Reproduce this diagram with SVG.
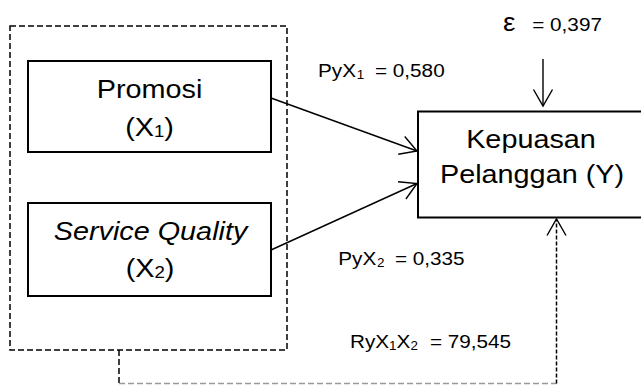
<svg xmlns="http://www.w3.org/2000/svg" width="641" height="385" viewBox="0 0 641 385">
  <style>
    .box { fill: #ffffff; stroke: #000000; stroke-width: 2; }
    .frame { fill: none; stroke: #000000; stroke-width: 1.5; stroke-dasharray: 6 3; }
    .big { font-family: "Liberation Sans", Arial, sans-serif; font-size: 25.5px; fill: #000000; text-anchor: middle; }
    .lbl { font-family: "Liberation Sans", Arial, sans-serif; font-size: 18.5px; fill: #000000; }
    .sub { font-size: 16.5px; }
    .lsub { font-size: 12px; }
    .path { fill: none; stroke: #000000; stroke-width: 1.4; }
  </style>
  <defs>
    <marker id="open" markerUnits="userSpaceOnUse" markerWidth="20" markerHeight="22" refX="17" refY="10" orient="auto" overflow="visible">
      <path d="M0.5,0.5 L17,10 L0.5,19.5" fill="none" stroke="#000000" stroke-width="1.4"/>
    </marker>
  </defs>

  <rect width="641" height="385" fill="#ffffff"/>

  <!-- independent variables frame -->
  <g id="frame-x">
    <rect class="frame" x="10" y="26" width="277" height="324"/>
  </g>

  <g id="node-promosi">
    <rect class="box" x="28" y="61" width="243" height="91"/>
    <text class="big" transform="translate(149.5,98) scale(1.13,1)">Promosi</text>
    <text class="big" transform="translate(149.5,136) scale(1.13,1)">(X<tspan class="sub" dy="1">1</tspan><tspan dy="-1">)</tspan></text>
  </g>

  <g id="node-service">
    <rect class="box" x="28" y="203" width="243" height="93"/>
    <text class="big" font-style="italic" transform="translate(150.5,240) scale(1.13,1)">Service Quality</text>
    <text class="big" transform="translate(150,277) scale(1.13,1)">(X<tspan class="sub" dy="1">2</tspan><tspan dy="-1">)</tspan></text>
  </g>

  <g id="node-kepuasan">
    <rect class="box" x="418" y="111.5" width="250" height="106"/>
    <text class="big" transform="translate(531,148) scale(1.13,1)">Kepuasan</text>
    <text class="big" transform="translate(532,182.5) scale(1.13,1)">Pelanggan (Y)</text>
  </g>

  <!-- connectors -->
  <g id="connectors">
    <line class="path" x1="271" y1="98" x2="417" y2="151" marker-end="url(#open)"/>
    <line class="path" x1="271" y1="250" x2="417" y2="183.5" marker-end="url(#open)"/>
    <line class="path" stroke-width="1.2" x1="543" y1="59" x2="543" y2="106" marker-end="url(#open)"/>
    <line fill="none" stroke="#000000" stroke-width="1.5" stroke-dasharray="6 3" x1="119" y1="350" x2="119" y2="383.5"/>
    <line fill="none" stroke="#9a9a9a" stroke-width="1.5" stroke-dasharray="6 3" x1="119" y1="383.5" x2="556.5" y2="383.5"/>
    <line fill="none" stroke="#000000" stroke-width="1.5" stroke-dasharray="4 2" x1="556.5" y1="383.5" x2="556.5" y2="219" marker-end="url(#open)"/>
  </g>

  <!-- coefficient labels -->
  <g id="labels">
    <text class="lbl" transform="translate(503,30.7) scale(1.12,1)"><tspan font-size="25">ε</tspan><tspan x="21"> = 0,397</tspan></text>
    <text class="lbl" transform="translate(318,77.3) scale(1.12,1)">PyX<tspan class="lsub" x="34.5" dy="1.5">1</tspan><tspan x="50.9" dy="-1.5">= 0,580</tspan></text>
    <text class="lbl" transform="translate(338.3,265) scale(1.12,1)">PyX<tspan class="lsub" x="34.5" dy="1.5">2</tspan><tspan x="50.6" dy="-1.5">= 0,335</tspan></text>
    <text class="lbl" transform="translate(350,348.3) scale(1.12,1)">RyX<tspan class="lsub" dy="1.5">1</tspan><tspan dy="-1.5">X</tspan><tspan class="lsub" dy="1.5">2</tspan><tspan x="71.4" dy="-1.5">= 79,545</tspan></text>
  </g>
</svg>
